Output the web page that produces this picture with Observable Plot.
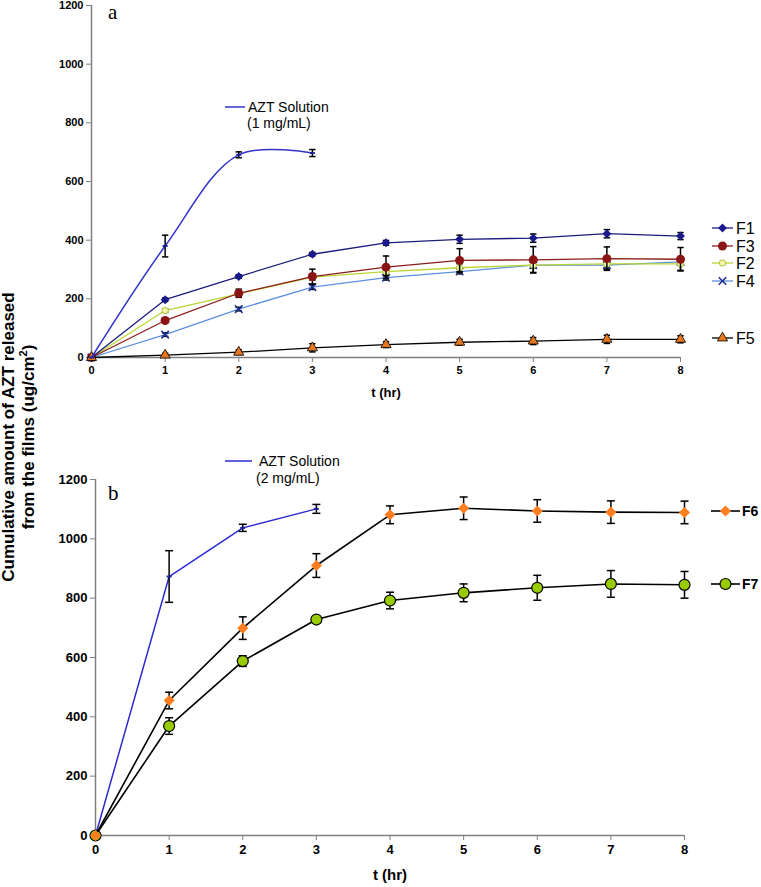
<!DOCTYPE html>
<html><head><meta charset="utf-8">
<script src="https://cdn.jsdelivr.net/npm/d3@7"></script>
<script src="https://cdn.jsdelivr.net/npm/@observablehq/plot@0.6"></script>
<style>
body{margin:0;background:#fff;font-family:Arial,"Liberation Sans",sans-serif;}
#wrap{position:relative;width:761px;height:887px;overflow:hidden;}
#wrap > svg{display:block}
#overlay{position:absolute;left:0;top:0;pointer-events:none;}
</style></head><body><div id="wrap"></div>
<script>
// ---------- data ----------
const hours = [0,1,2,3,4,5,6,7,8];
const aztHours = [0,1,2,3];
const yTicks = [0,200,400,600,800,1000,1200];
// panel a
const aztA    = [0,380,691,697];
const aztAErr = [0,37,10,12];
const f1    = [0,197,276,352,391,403,407,422,414];
const f1Err = [0,6,6,6,8,14,14,14,12];
const f3    = [0,126,219,276,308,331,333,337,335];
const f3Err = [0,8,14,25,38,40,45,40,40];
const f2    = [0,160,217,274,293,306,315,319,319];
const f2Err = [0,6,8,10,14,14,25,20,22];
const f4    = [0,78,165,240,272,293,315,315,326];
const f4Err = [0,6,6,8,8,8,10,10,10];
const f5    = [0,8,18,33,44,52,56,62,62];
const f5Err = [0,6,8,14,10,10,12,14,12];
// panel b
const aztB    = [0,873,1037,1101];
const aztBErr = [0,87,12,15];
const f6    = [0,455,699,910,1081,1103,1094,1090,1089];
const f6Err = [0,28,38,40,30,38,38,38,38];
const f7    = [0,369,588,728,792,818,835,848,845];
const f7Err = [0,28,18,8,28,30,42,45,45];

// ---------- helpers ----------
const rows = (xs, ys, es) => xs.map((x,i)=>({x, y:ys[i], e:es[i]}));
const capSym = {draw(ctx, size){ const w = Math.sqrt(size/Math.PI); ctx.moveTo(-w,0); ctx.lineTo(w,0); }};
const FONT = "Arial, 'Liberation Sans', sans-serif";

function series(data, o){
  const withErr = data.filter(d=>d.e>0);
  const marks = [
    Plot.line(data, {x:"x", y:"y", stroke:o.line, strokeWidth:o.lw||1.3, curve:o.curve||"linear"}),
    Plot.ruleX(withErr, {x:"x", y1:d=>d.y-d.e, y2:d=>d.y+d.e, stroke:"black", strokeWidth:1.5}),
    Plot.dot(withErr, {x:"x", y:d=>d.y+d.e, symbol:capSym, r:o.cap||3.2, stroke:"black", strokeWidth:1.5}),
    Plot.dot(withErr, {x:"x", y:d=>d.y-d.e, symbol:capSym, r:o.cap||3.2, stroke:"black", strokeWidth:1.5})
  ];
  if (o.symbol) marks.push(Plot.dot(data, {x:"x", y:"y", symbol:o.symbol, r:o.r, fill:o.fill||"none", stroke:o.mstroke||"none", strokeWidth:o.msw||1}));
  return marks;
}
function axes(fs, titleDy){
  return [
    Plot.ruleY([0], {stroke:"#808080", strokeWidth:1.5}),
    Plot.ruleX([0], {stroke:"#808080", strokeWidth:1.5}),
    Plot.axisX({ticks:hours, tickSize:5, tickPadding:4, stroke:"#808080", fill:"black", fontWeight:"bold", fontSize:fs, label:null, tickFormat:d3.format("d")}),
    Plot.axisY({ticks:yTicks, tickSize:5, tickPadding:3, stroke:"#808080", fill:"black", fontWeight:"bold", fontSize:fs, label:null, tickFormat:d3.format("d")}),
    Plot.text(["t (hr)"], {frameAnchor:"bottom", dy:titleDy, fontWeight:"bold", fontSize:fs+2, fill:"black"})
  ];
}

// ---------- panel a ----------
const plotA = Plot.plot({
  width:761, height:420, marginTop:5, marginBottom:63, marginLeft:91, marginRight:81,
  style:{fontFamily:FONT, background:"white", overflow:"visible"},
  x:{domain:[0,8]}, y:{domain:[0,1200]},
  marks:[
    ...axes(11, 39),
    ...series(rows(hours,f4,f4Err), {line:"#5b8fe0", symbol:"times", r:3.5, mstroke:"#1f2f8f", msw:1.6}),
    ...series(rows(hours,f2,f2Err), {line:"#b8d630", symbol:"circle", r:3.2, fill:"#f4f4b0", mstroke:"#a8c830"}),
    ...series(rows(hours,f3,f3Err), {line:"#8b1c1c", symbol:"circle", r:4.5, fill:"#8b1414"}),
    ...series(rows(hours,f1,f1Err), {line:"#1c1c7c", symbol:"diamond2", r:4, fill:"#1a1a8c"}),
    ...series(rows(hours,f5,f5Err), {line:"black", symbol:"triangle", r:3.8, fill:"#e8781e", mstroke:"black", msw:0.8}),
    ...series(rows(aztHours,aztA,aztAErr), {line:"#3333cc", lw:1.5, curve:"catmull-rom", symbol:capSym, r:2.5, mstroke:"#2020a0", msw:2})
  ]
});

// ---------- panel b ----------
const plotB = Plot.plot({
  width:761, height:467, marginTop:59, marginBottom:52, marginLeft:95, marginRight:77,
  style:{fontFamily:FONT, background:"white", overflow:"visible"},
  x:{domain:[0,8]}, y:{domain:[0,1200]},
  marks:[
    ...axes(13, 44),
    ...series(rows(aztHours,aztB,aztBErr), {line:"#2b2bd0", lw:1.5, cap:4, symbol:capSym, r:2.5, mstroke:"#2020a0", msw:2}),
    ...series(rows(hours,f7,f7Err), {line:"black", lw:1.6, cap:4, symbol:"circle", r:5.5, fill:"#99cc00", mstroke:"black", msw:1.2}),
    ...series(rows(hours,f6,f6Err), {line:"black", lw:1.6, cap:4, symbol:"diamond2", r:5, fill:"#ff7f20"})
  ]
});

const wrap = document.getElementById("wrap");
wrap.appendChild(plotA);
wrap.appendChild(plotB);

// ---------- overlay: legends, panel letters, y title ----------
const ov = d3.select(wrap).append("svg").attr("id","overlay").attr("width",761).attr("height",887)
  .style("font-family", FONT);

function legendItem(x1, x2, y, line, lw, sym, r, fill, stroke, sw, label, tx, fs, weight){
  ov.append("line").attr("x1",x1).attr("x2",x2).attr("y1",y).attr("y2",y).attr("stroke",line).attr("stroke-width",lw);
  if (sym) ov.append("path").attr("d", d3.symbol().type(sym).size(Math.PI*r*r)())
    .attr("transform",`translate(${(x1+x2)/2},${y})`).attr("fill",fill).attr("stroke",stroke).attr("stroke-width",sw);
  ov.append("text").attr("x",tx).attr("y",y).attr("dy","0.35em").attr("font-size",fs).attr("font-weight",weight).text(label);
}
legendItem(712,733,228,"#1c1c7c",1.3,d3.symbolDiamond2,4,"#1a1a8c","none",0,"F1",736,16,"normal");
legendItem(712,733,246,"#8b1c1c",1.3,d3.symbolCircle,4.5,"#8b1414","none",0,"F3",736,16,"normal");
legendItem(712,733,263,"#b8d630",1.3,d3.symbolCircle,3.2,"#f4f4b0","#a8c830",1,"F2",736,16,"normal");
legendItem(712,733,281,"#5b8fe0",1.3,d3.symbolTimes,3.5,"none","#1f2f8f",1.6,"F4",736,16,"normal");
legendItem(712,733,338,"black",1.3,d3.symbolTriangle,3.8,"#e8781e","black",0.8,"F5",736,16,"normal");
legendItem(711,740,511,"black",1.6,d3.symbolDiamond2,5,"#ff7f20","none",0,"F6",742,14,"bold");
legendItem(711,740,584,"black",1.6,d3.symbolCircle,5.5,"#99cc00","black",1.2,"F7",742,14,"bold");

// AZT legends
ov.append("line").attr("x1",225).attr("x2",245).attr("y1",107).attr("y2",107).attr("stroke","#3333cc").attr("stroke-width",1.5);
ov.append("text").attr("x",248).attr("y",112).attr("font-size",14).text("AZT Solution");
ov.append("text").attr("x",247).attr("y",128).attr("font-size",14).text("(1 mg/mL)");
ov.append("line").attr("x1",225).attr("x2",252).attr("y1",461).attr("y2",461).attr("stroke","#2b2bd0").attr("stroke-width",1.5);
ov.append("text").attr("x",259).attr("y",466).attr("font-size",14).text("AZT Solution");
ov.append("text").attr("x",256).attr("y",483).attr("font-size",14).text("(2 mg/mL)");

// panel letters
ov.append("text").attr("x",108).attr("y",19).attr("font-size",21).attr("font-family","'Liberation Serif','DejaVu Serif',serif").text("a");
ov.append("text").attr("x",108).attr("y",500).attr("font-size",21).attr("font-family","'Liberation Serif','DejaVu Serif',serif").text("b");

// y title
const yt = ov.append("g").attr("font-weight","bold").attr("font-size",17).attr("text-anchor","middle");
yt.append("text").attr("transform","translate(14,437) rotate(-90)").text("Cumulative amount of AZT released");
const t2 = yt.append("text").attr("transform","translate(34,437) rotate(-90)");
t2.append("tspan").text("from the films (ug/cm");
t2.append("tspan").attr("font-size",11).attr("dy",-7).text("2");
t2.append("tspan").attr("dy",7).text(")");
</script></body></html>
